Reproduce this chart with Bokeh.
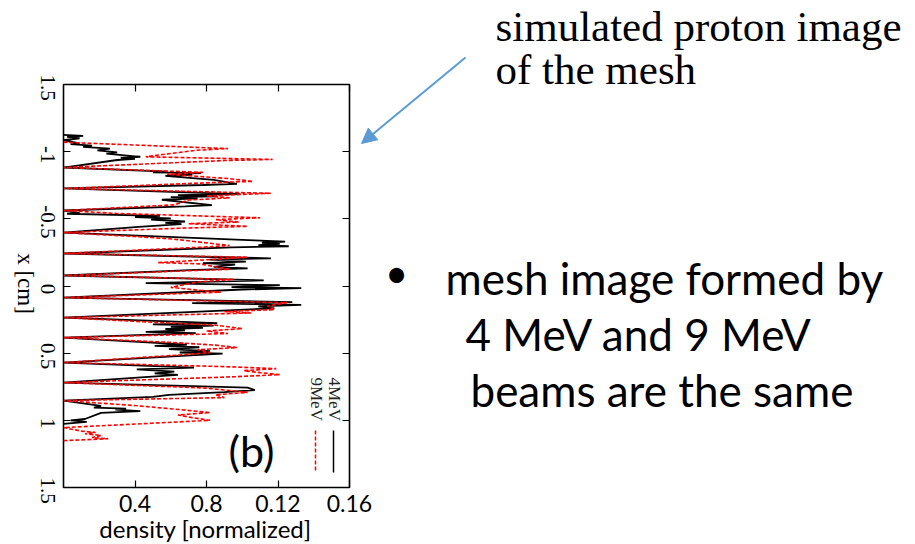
import math

from bokeh.plotting import figure
from bokeh.models import (Range1d, FixedTicker, Label, LabelSet, Arrow, NormalHead,
                          LinearAxis, GridBox, ColumnDataSource)
from bokeh.embed import file_html
from bokeh.resources import INLINE

# ---- data: transverse density profiles of the mesh image ----
# position across the detector [cm]
mev4_position = [
    -1.125, -1.117, -1.110, -1.100, -1.085, -1.062, -1.056, -1.045, -1.036, -1.022,
    -1.010, -0.995, -0.985, -0.962, -0.955, -0.947, -0.938, -0.882,
    -0.852, -0.846, -0.840, -0.834, -0.828, -0.820, -0.790, -0.760, -0.752, -0.726,
    -0.684, -0.676, -0.668, -0.661, -0.652, -0.642, -0.602, -0.592, -0.562,
    -0.545, -0.538, -0.522, -0.512, -0.503, -0.494, -0.480, -0.470, -0.460, -0.440, -0.398,
    -0.340, -0.331, -0.322, -0.314, -0.305, -0.296, -0.288, -0.242,
    -0.206, -0.196, -0.182, -0.171, -0.160, -0.142, -0.131, -0.120, -0.078,
    -0.042, -0.022, -0.006, 0.008, 0.016, 0.026, 0.086,
    0.120, 0.128, 0.141, 0.151, 0.166, 0.235,
    0.276, 0.285, 0.295, 0.305, 0.312, 0.320, 0.331, 0.341, 0.351, 0.384,
    0.436, 0.445, 0.456, 0.470, 0.485, 0.495, 0.504, 0.516, 0.570,
    0.607, 0.620, 0.638, 0.650, 0.661, 0.719,
    0.756, 0.775, 0.790, 0.811, 0.826, 0.853,
    0.892, 0.905, 0.913, 0.921, 0.931, 0.945, 0.990, 1.001, 1.011, 1.026,
]
mev4_density = [
    0.000, 0.011, 0.002, 0.009, 0.000, 0.009, 0.004, 0.016, 0.011, 0.026,
    0.019, 0.030, 0.024, 0.043, 0.032, 0.040, 0.030, 0.000,
    0.058, 0.050, 0.077, 0.062, 0.072, 0.057, 0.084, 0.097, 0.078, 0.000,
    0.099, 0.064, 0.086, 0.060, 0.075, 0.055, 0.083, 0.068, 0.000,
    0.009, 0.002, 0.054, 0.040, 0.060, 0.049, 0.068, 0.057, 0.066, 0.042, 0.000,
    0.107, 0.124, 0.111, 0.121, 0.109, 0.126, 0.094, 0.000,
    0.116, 0.082, 0.102, 0.078, 0.096, 0.084, 0.103, 0.074, 0.000,
    0.112, 0.046, 0.121, 0.094, 0.133, 0.100, 0.000,
    0.128, 0.072, 0.133, 0.109, 0.118, 0.000,
    0.086, 0.050, 0.084, 0.060, 0.078, 0.057, 0.068, 0.046, 0.074, 0.000,
    0.069, 0.051, 0.076, 0.059, 0.082, 0.065, 0.089, 0.071, 0.000,
    0.073, 0.041, 0.062, 0.051, 0.064, 0.000,
    0.103, 0.107, 0.090, 0.059, 0.050, 0.000,
    0.021, 0.017, 0.035, 0.029, 0.043, 0.021, 0.012, 0.004, 0.013, 0.000,
]

mev9_position = [
    -1.070, -1.023, -1.010, -0.962, -0.942, -0.934, -0.882,
    -0.846, -0.832, -0.800, -0.779, -0.768, -0.726,
    -0.690, -0.671, -0.656, -0.640, -0.604, -0.562,
    -0.540, -0.508, -0.494, -0.476, -0.464, -0.444, -0.430, -0.398,
    -0.368, -0.350, -0.301, -0.290, -0.242,
    -0.214, -0.199, -0.174, -0.165, -0.124, -0.114, -0.078,
    -0.049, -0.030, 0.010, 0.025, 0.046, 0.086,
    0.124, 0.150, 0.176, 0.190, 0.201, 0.235,
    0.270, 0.291, 0.317, 0.335, 0.354, 0.384,
    0.420, 0.440, 0.458, 0.475, 0.496, 0.511, 0.570,
    0.600, 0.615, 0.630, 0.645, 0.660, 0.676, 0.719,
    0.760, 0.792, 0.810, 0.831, 0.853,
    0.890, 0.920, 0.942, 0.960, 0.980, 1.000, 1.022, 1.054,
    1.080, 1.090, 1.100, 1.112, 1.128, 1.137, 1.151,
]
mev9_density = [
    0.000, 0.092, 0.074, 0.046, 0.117, 0.090, 0.000,
    0.078, 0.058, 0.092, 0.106, 0.080, 0.000,
    0.116, 0.080, 0.093, 0.070, 0.062, 0.000,
    0.030, 0.110, 0.085, 0.098, 0.070, 0.103, 0.065, 0.000,
    0.040, 0.061, 0.093, 0.079, 0.000,
    0.103, 0.085, 0.053, 0.076, 0.093, 0.070, 0.000,
    0.095, 0.075, 0.060, 0.071, 0.088, 0.000,
    0.125, 0.114, 0.118, 0.090, 0.105, 0.000,
    0.050, 0.085, 0.100, 0.080, 0.092, 0.000,
    0.060, 0.085, 0.097, 0.075, 0.082, 0.068, 0.000,
    0.090, 0.119, 0.101, 0.110, 0.121, 0.095, 0.000,
    0.080, 0.103, 0.085, 0.090, 0.000,
    0.040, 0.065, 0.082, 0.064, 0.072, 0.082, 0.049, 0.000,
    0.010, 0.018, 0.012, 0.021, 0.016, 0.025, 0.000,
]

# axis ticks and their printed labels
density_ticks = [0.04, 0.08, 0.12, 0.16]
density_tick_labels = ["0.4", "0.8", "0.12", "0.16"]
position_ticks = [-1.5, -1.0, -0.5, 0.0, 0.5, 1.0, 1.5]
position_tick_labels = ["1.5", "-1", "-0.5", "0", "0.5", "1", "1.5"]

# ---- chart ----
W, H = 915, 544
FL, FR, FT, FB = 63, 349, 84, 487   # plot frame edges on the canvas

p = figure(
    width=W, height=H, output_backend="svg", toolbar_location=None,
    x_range=Range1d(0, 0.16), y_range=Range1d(1.5, -1.5),
    min_border_left=FL, min_border_right=W - FR,
    min_border_top=FT, min_border_bottom=H - FB,
    frame_align=False,
)
p.xgrid.visible = False
p.ygrid.visible = False
p.background_fill_color = "white"
p.border_fill_color = "white"
p.outline_line_color = "black"
p.outline_line_width = 1.6


def at(sx, sy):
    """Canvas pixel -> chart data coordinates (for the in-frame legend)."""
    xr, yr = p.x_range, p.y_range
    x = xr.start + (sx - FL) / (FR - FL) * (xr.end - xr.start)
    y = yr.start + (sy - FB) / (FT - FB) * (yr.end - yr.start)
    return x, y


def style_axis(ax, ticks, overrides):
    ax.ticker = FixedTicker(ticks=ticks)
    ax.major_label_overrides = overrides
    ax.axis_line_color = None
    ax.major_tick_in = 7
    ax.major_tick_out = 0
    ax.major_tick_line_color = "black"
    ax.major_tick_line_width = 1.2
    ax.minor_tick_line_color = None


xa = p.xaxis[0]
style_axis(xa, density_ticks, dict(zip(density_ticks, density_tick_labels)))
xa.major_label_text_font = "Lato"
xa.major_label_text_font_size = "23px"
xa.major_label_text_color = "black"
xa.major_label_standoff = 7

# left axis keeps its ticks; its rotated, centred labels are set on the overlay
ya = p.yaxis[0]
style_axis(ya, position_ticks, {t: "" for t in position_ticks})

# mirrored ticks on the top and right edges
top_ax = LinearAxis()
style_axis(top_ax, density_ticks, {t: "" for t in density_ticks})
right_ax = LinearAxis()
style_axis(right_ax, position_ticks, {t: "" for t in position_ticks})
p.add_layout(top_ax, "above")
p.add_layout(right_ax, "right")

# profiles
p.line(mev4_density, mev4_position, line_color="black", line_width=1.8)
p.line(mev9_density, mev9_position, line_color="#ff0000", line_width=1.6, line_dash="4 2")

# panel tag and rotated legend inside the frame
b_lab = at(251, 450)
p.add_layout(Label(x=b_lab[0], y=b_lab[1], text="(b)", text_align="center",
                   text_baseline="alphabetic", text_font="Lato", text_font_size="43px",
                   text_color="black"))

for name, sx, color, dash in [("4MeV", 334, "black", "solid"), ("9MeV", 316, "#ff0000", "4 2")]:
    tx, ty = at(sx, 377)
    p.add_layout(Label(x=tx, y=ty, text=name, angle=-math.pi / 2,
                       text_align="left", text_baseline="middle",
                       text_font="Liberation Serif", text_font_size="17px", text_color="#222222"))
    x0, y0 = at(sx - 1, 430)
    x1, y1 = at(sx - 1, 472)
    p.segment(x0=[x0], y0=[y0], x1=[x1], y1=[y1], line_color=color,
              line_width=1.5, line_dash=dash)

# ---- overlay with the axis titles, side notes and pointer (canvas pixels) ----
notes = figure(
    width=W, height=H, output_backend="svg", toolbar_location=None,
    x_range=Range1d(0, W), y_range=Range1d(H, 0), min_border=0,
    x_axis_location=None, y_axis_location=None,
    frame_align=False,
)
notes.xgrid.visible = False
notes.ygrid.visible = False
notes.outline_line_color = None
notes.background_fill_color = None
notes.border_fill_color = None

# the chart's position scale stretched over the whole overlay canvas
per_px = (p.y_range.end - p.y_range.start) / (FT - FB)
notes.extra_y_ranges = {"position": Range1d(p.y_range.start + (H - FB) * per_px,
                                            p.y_range.end - FT * per_px)}

tick_src = ColumnDataSource(dict(y=position_ticks, text=position_tick_labels,
                                 x=[47] * len(position_ticks)))
notes.add_layout(LabelSet(x="x", y="y", text="text", source=tick_src, y_range_name="position",
                          angle=-math.pi / 2, text_align="center", text_baseline="middle",
                          y_offset=-3,
                          text_font="Liberation Serif", text_font_size="21px",
                          text_color="black"))

notes.add_layout(Label(x=25, y=283, text="x [cm]", angle=-math.pi / 2,
                       text_align="center", text_baseline="middle",
                       text_font="Liberation Serif", text_font_size="23px", text_color="black"))
notes.add_layout(Label(x=205, y=528, text="density [normalized]",
                       text_align="center", text_baseline="alphabetic",
                       text_font="Lato", text_font_size="24px", text_color="black"))

serif = dict(text_font="Liberation Serif", text_font_size="43px", text_color="black",
             text_align="left", text_baseline="alphabetic")
for text, sx, sy in [("simulated proton image", 495, 26), ("of the mesh", 495, 69)]:
    notes.add_layout(Label(x=sx, y=sy, text=text, **serif))

sans = dict(text_font="Lato", text_font_size="44px", text_color="black",
            text_align="left", text_baseline="alphabetic")
for text, sx, sy in [("mesh image formed by", 445, 277),
                     ("4 MeV and 9 MeV", 465, 333),
                     ("beams are the same", 470, 389)]:
    notes.add_layout(Label(x=sx, y=sy, text=text, **sans))

notes.add_layout(Label(x=396, y=272, text="•", text_align="center", text_baseline="middle",
                       text_font="Lato", text_font_size="40px", text_color="black"))

blue = "#5b9bd5"
notes.add_layout(Arrow(x_start=465, y_start=57, x_end=361, y_end=143,
                       line_color=blue, line_width=2,
                       end=NormalHead(size=15, fill_color=blue, line_color=blue)))

# both canvases share one grid cell, the notes drawn over the chart
page = GridBox(children=[(p, 0, 0), (notes, 0, 0)], width=W, height=H)

open("out.html", "w").write(file_html(page, INLINE))
